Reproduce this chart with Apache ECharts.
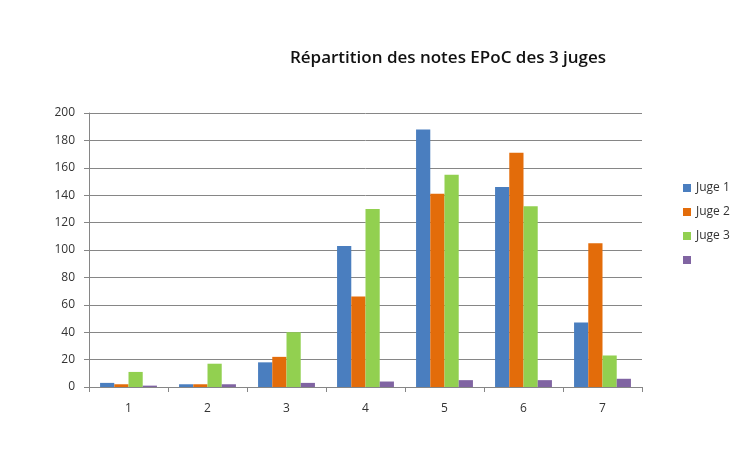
<!DOCTYPE html>
<html>
<head>
<meta charset="utf-8">
<script src="https://cdn.jsdelivr.net/npm/echarts@6/dist/echarts.min.js"></script>
<style>
  html, body { margin: 0; padding: 0; background: #fff; }
  #main { width: 748px; height: 459px; }
</style>
</head>
<body>
<div id="main"></div>
<script>
var notes = ['1', '2', '3', '4', '5', '6', '7'];
var juge1 = [3, 2, 18, 103, 188, 146, 47];
var juge2 = [2, 2, 22, 66, 141, 171, 105];
var juge3 = [11, 17, 40, 130, 155, 132, 23];
var serie4 = [1, 2, 3, 4, 5, 5, 6];
var seriesNames = ['Juge 1', 'Juge 2', 'Juge 3', ' '];
var colors = ['#4a7ebf', '#e36c0a', '#92d050', '#8064a2'];

var myChart = echarts.init(document.getElementById('main'));
var font = 'Open Sans';

myChart.setOption({
    color: colors,
    animation: false,
    title: {
        text: 'Répartition des notes EPoC des 3 juges',
        left: 443,
        top: 45,
        textAlign: 'center',
        textStyle: { fontFamily: font, fontSize: 17, fontWeight: 600, color: '#111' }
    },
    legend: {
        orient: 'vertical',
        left: 678,
        top: 177,
        itemWidth: 8,
        itemHeight: 8,
        itemGap: 12,
        icon: 'rect',
        data: seriesNames,
        textStyle: { fontFamily: font, fontSize: 12, color: '#333' }
    },
    grid: {
        left: 89,
        right: 106,
        top: 113,
        bottom: 72
    },
    xAxis: {
        type: 'category',
        data: notes,
        axisLine: { lineStyle: { color: '#868686' } },
        axisTick: { show: true, length: 5, lineStyle: { color: '#868686' } },
        axisLabel: { fontFamily: font, fontSize: 12, color: '#333', margin: 16 }
    },
    yAxis: {
        type: 'value',
        min: 0,
        max: 200,
        interval: 20,
        axisLine: { show: true, lineStyle: { color: '#868686' } },
        axisTick: { show: true, length: 5, lineStyle: { color: '#868686' } },
        splitLine: { lineStyle: { color: '#868686' } },
        axisLabel: { fontFamily: font, fontSize: 12, color: '#333', margin: 14 }
    },
    series: [
        { name: seriesNames[0], type: 'bar', data: juge1, barGap: '0%', barCategoryGap: '28%' },
        { name: seriesNames[1], type: 'bar', data: juge2, barGap: '0%', barCategoryGap: '28%' },
        { name: seriesNames[2], type: 'bar', data: juge3, barGap: '0%', barCategoryGap: '28%' },
        { name: seriesNames[3], type: 'bar', data: serie4, barGap: '0%', barCategoryGap: '28%' }
    ]
});
</script>
</body>
</html>
